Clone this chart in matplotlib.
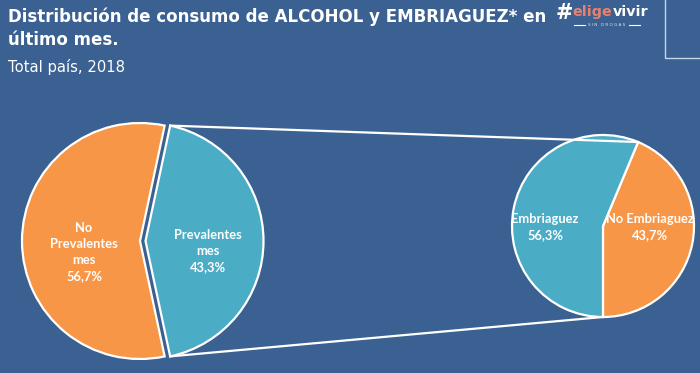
import numpy as np
import matplotlib.pyplot as plt
from matplotlib.patches import Rectangle

# data
prev_labels = ["No\nPrevalentes\nmes", "Prevalentes\nmes"]
prev_values = [56.7, 43.3]
emb_labels = ["No Embriaguez", "Embriaguez"]
emb_values = [43.7, 56.3]

BG = "#3a6191"
ORANGE = "#f79646"
BLUE = "#4bacc6"

W, H = 700, 373
fig = plt.figure(figsize=(7, 3.73), dpi=100, facecolor=BG)
ax = fig.add_axes([0, 0, 1, 1])
ax.set_facecolor(BG)

# left pie (blue wedge pulled out to the right)
c1, r1 = (140, 132), 118
off = 5.5
half1 = prev_values[1] / 100 * 180
ax.pie(prev_values, colors=[ORANGE, BLUE], center=c1, radius=r1,
       startangle=half1, explode=[0, off], frame=True,
       wedgeprops=dict(edgecolor="white", linewidth=1.6))

# right pie
c2, r2 = (603, 147), 91
ax.pie(emb_values, colors=[ORANGE, BLUE], center=c2, radius=r2,
       startangle=-90, frame=True,
       wedgeprops=dict(edgecolor="white", linewidth=1.6))

# connector lines
a_top = np.radians(half1)
a_emb = np.radians(-90 + emb_values[0] / 100 * 360)
left_top = (c1[0] + off + r1 * np.cos(a_top), c1[1] + r1 * np.sin(a_top))
left_bot = (c1[0] + off + r1 * np.cos(-a_top), c1[1] + r1 * np.sin(-a_top))
right_top = (c2[0] + r2 * np.cos(a_emb), c2[1] + r2 * np.sin(a_emb))
right_bot = (c2[0], c2[1] - r2)
ax.plot([left_top[0], right_top[0]], [left_top[1], right_top[1]], color="white", lw=1.6)
ax.plot([left_bot[0], right_bot[0]], [left_bot[1], right_bot[1]], color="white", lw=1.6)

lbl = dict(color="white", fontweight="bold", fontsize=9.3, family="Lato",
           ha="center", va="center", linespacing=1.42)
ax.text(84, 121, prev_labels[0] + f"\n{prev_values[0]:.1f}%".replace(".", ","), **lbl)
ax.text(208, 122, prev_labels[1] + f"\n{prev_values[1]:.1f}%".replace(".", ","), **lbl)
ax.text(545, 146, emb_labels[1] + f"\n{emb_values[1]:.1f}%".replace(".", ","), **lbl)
ax.text(650, 146, emb_labels[0] + f"\n{emb_values[0]:.1f}%".replace(".", ","), **lbl)

ax.set_xlim(0, W)
ax.set_ylim(0, H)
ax.set_aspect("auto")
ax.axis("off")

# titles
fig.text(8 / W, 1 - 8 / H, "Distribución de consumo de ALCOHOL y EMBRIAGUEZ* en\núltimo mes.",
         color="white", fontsize=12, fontweight="bold", va="top", ha="left", linespacing=1.3)
fig.text(8 / W, 1 - 59 / H, "Total país, 2018", color="white", fontsize=10.6, va="top", ha="left")

# logo
fig.text(556 / W, 1 - 3 / H, "#", color="white", fontsize=15, fontweight="bold", va="top")
t_elige = fig.text(572 / W, 1 - 5 / H, "elige", color="#e8806e", fontsize=10.3,
                   fontweight="bold", va="top")
ax.annotate("vivir", xy=(1, 0), xycoords=t_elige, xytext=(0.5, 0), textcoords="offset points",
            color="white", fontsize=10.3, fontweight="bold", va="bottom", ha="left")
fig.text(607 / W, 1 - 25 / H, "S I N   D R O G A S", color="#dfe6f0", fontsize=3, va="center", ha="center")
ax.plot([574, 585], [348, 348], color="white", lw=0.8)
ax.plot([629, 640], [348, 348], color="white", lw=0.8)
ax.add_patch(Rectangle((665, 315), 40, 60, fill=False, edgecolor="#c8d4e4", lw=1))

fig.savefig("out.png", dpi=100, facecolor=BG)
